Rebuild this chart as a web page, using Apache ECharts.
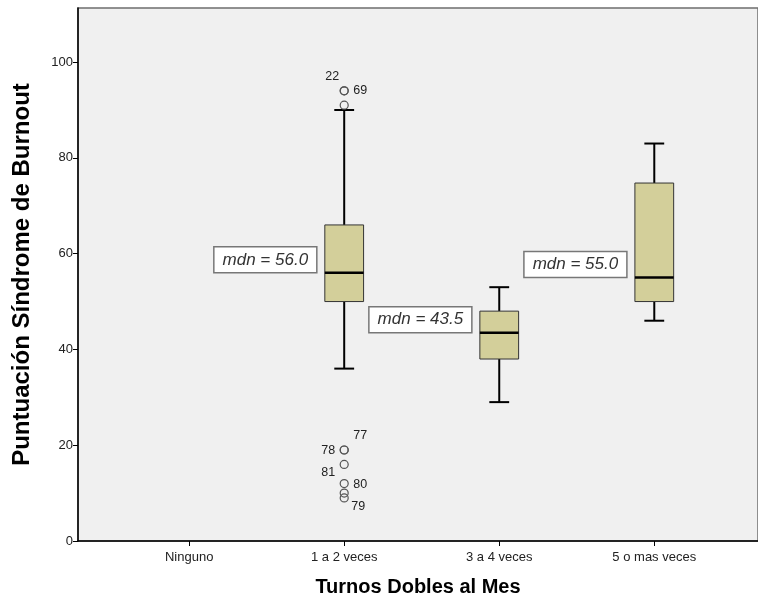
<!DOCTYPE html>
<html>
<head>
<meta charset="utf-8">
<script src="https://cdn.jsdelivr.net/npm/echarts@6/dist/echarts.min.js"></script>
<style>
html,body{margin:0;padding:0;background:#fff;}
#chart{width:758px;height:602px;}
</style>
</head>
<body>
<div id="chart"></div>
<script>
// ---- data ----
var categories = ['Ninguno', '1 a 2 veces', '3 a 4 veces', '5 o mas veces'];
var yTicks = [0, 20, 40, 60, 80, 100];
// [category index, lower whisker, Q1, median, Q3, upper whisker]
var boxStats = [
  [1, 36, 50, 56, 66, 90],
  [2, 29, 38, 43.5, 48, 53],
  [3, 46, 50, 55, 74.75, 83]
];
var medianLabels = ['mdn = 56.0', 'mdn = 43.5', 'mdn = 55.0'];
// outliers: [category index, value]
var outlierValues = [[1, 94], [1, 94], [1, 91], [1, 19], [1, 19], [1, 16], [1, 12], [1, 10], [1, 9]];
var outlierIds = ['22', '69', '', '77', '78', '81', '80', '', '79'];

// ---- styling (label placement offsets in px) ----
var idPlacement = {
  '22': [-12, -14, 'center'],
  '69': [5, 0, 'left'],
  '77': [5, -14, 'left'],
  '78': [-5, 1, 'right'],
  '81': [-5, 8, 'right'],
  '80': [5, 1, 'left'],
  '79': [3, 9, 'left']
};

var chart = echarts.init(document.getElementById('chart'));

var boxSeriesData = boxStats.map(function (b) { return b; });
var outlierData = outlierValues.map(function (o, i) { return [o[0], o[1], i]; });
var labelData = boxStats.map(function (b, i) { return [b[0], b[3], i]; });

var option = {
  backgroundColor: '#ffffff',
  animation: false,
  grid: {
    left: 78, right: -2, top: 8, bottom: 61,
    show: true, backgroundColor: '#f0f0f0', borderColor: '#6e6e6e', borderWidth: 1.5
  },
  xAxis: {
    type: 'value', min: -0.717, max: 3.669,
    name: 'Turnos Dobles al Mes', nameLocation: 'middle', nameGap: 36,
    nameTextStyle: { fontFamily: 'Liberation Sans', fontSize: 20, fontWeight: 'bold', color: '#000' },
    splitLine: { show: false },
    axisLine: { show: true, onZero: false, lineStyle: { color: '#000', width: 1.5 } },
    axisTick: { show: true, length: 5, customValues: [0, 1, 2, 3], lineStyle: { color: '#000', width: 1 } },
    axisLabel: {
      customValues: [0, 1, 2, 3], margin: 10,
      fontFamily: 'Liberation Sans', fontSize: 13, color: '#222',
      formatter: function (v) { return categories[Math.round(v)]; }
    }
  },
  yAxis: {
    type: 'value', min: 0, max: 111.3,
    name: 'Puntuación Síndrome de Burnout', nameLocation: 'middle', nameGap: 44,
    nameTextStyle: { fontFamily: 'Liberation Sans', fontSize: 24, fontWeight: 'bold', color: '#000' },
    splitLine: { show: false },
    axisLine: { show: true, onZero: false, lineStyle: { color: '#000', width: 1.5 } },
    axisTick: { show: true, length: 5, customValues: yTicks, lineStyle: { color: '#000', width: 1 } },
    axisLabel: { customValues: yTicks, margin: 5, fontFamily: 'Liberation Sans', fontSize: 13, color: '#222' }
  },
  series: [
    {
      type: 'custom',
      data: boxSeriesData,
      encode: { x: 0, y: [1, 2, 3, 4, 5] },
      renderItem: function (params, api) {
        var x = api.value(0);
        var unit = api.size([1, 0])[0];
        var hw = unit * 0.125;
        var cw = unit * 0.064;
        var pLow = api.coord([x, api.value(1)]);
        var pQ1 = api.coord([x, api.value(2)]);
        var pMed = api.coord([x, api.value(3)]);
        var pQ3 = api.coord([x, api.value(4)]);
        var pHigh = api.coord([x, api.value(5)]);
        var cx = pMed[0];
        var lineStyle = { stroke: '#000', lineWidth: 2 };
        return {
          type: 'group',
          children: [
            { type: 'line', shape: { x1: cx, y1: pHigh[1], x2: cx, y2: pQ3[1] }, style: lineStyle },
            { type: 'line', shape: { x1: cx, y1: pQ1[1], x2: cx, y2: pLow[1] }, style: lineStyle },
            { type: 'line', shape: { x1: cx - cw, y1: pHigh[1], x2: cx + cw, y2: pHigh[1] }, style: lineStyle },
            { type: 'line', shape: { x1: cx - cw, y1: pLow[1], x2: cx + cw, y2: pLow[1] }, style: lineStyle },
            { type: 'rect', shape: { x: cx - hw, y: pQ3[1], width: hw * 2, height: pQ1[1] - pQ3[1] },
              style: { fill: '#d3cf9a', stroke: '#333', lineWidth: 1 } },
            { type: 'line', shape: { x1: cx - hw, y1: pMed[1], x2: cx + hw, y2: pMed[1] }, style: { stroke: '#000', lineWidth: 2.5 } }
          ]
        };
      }
    },
    {
      type: 'custom',
      data: labelData,
      encode: { x: 0, y: 1 },
      z: 5,
      renderItem: function (params, api) {
        var x = api.value(0);
        var p = api.coord([x, api.value(1)]);
        var unit = api.size([1, 0])[0];
        var w = 103, h = 26;
        var right = p[0] - unit * 0.125 - 8;
        var cy = p[1] - 13;
        return {
          type: 'group',
          children: [
            { type: 'rect', shape: { x: right - w, y: cy - h / 2, width: w, height: h },
              style: { fill: '#ffffff', stroke: '#777', lineWidth: 1.5 } },
            { type: 'text', x: right - w / 2, y: cy,
              style: { text: medianLabels[api.value(2)], fill: '#333', fontFamily: 'Liberation Sans',
                       fontStyle: 'italic', fontSize: 17, align: 'center', verticalAlign: 'middle' } }
          ]
        };
      }
    },
    {
      type: 'custom',
      data: outlierData,
      encode: { x: 0, y: 1 },
      z: 4,
      renderItem: function (params, api) {
        var p = api.coord([api.value(0), api.value(1)]);
        var id = outlierIds[api.value(2)];
        var children = [
          { type: 'circle', shape: { cx: p[0], cy: p[1], r: 4 }, style: { fill: 'none', stroke: '#555', lineWidth: 1.2 } }
        ];
        if (id && idPlacement[id]) {
          var pl = idPlacement[id];
          var tx = p[0] + (pl[2] === 'left' ? 4 + pl[0] : pl[2] === 'right' ? -4 + pl[0] : pl[0]);
          children.push({ type: 'text', x: tx, y: p[1] + pl[1],
            style: { text: id, fill: '#222', fontFamily: 'Liberation Sans', fontSize: 12.5,
                     align: pl[2], verticalAlign: 'middle' } });
        }
        return { type: 'group', children: children };
      }
    }
  ]
};
chart.setOption(option);
</script>
</body>
</html>
